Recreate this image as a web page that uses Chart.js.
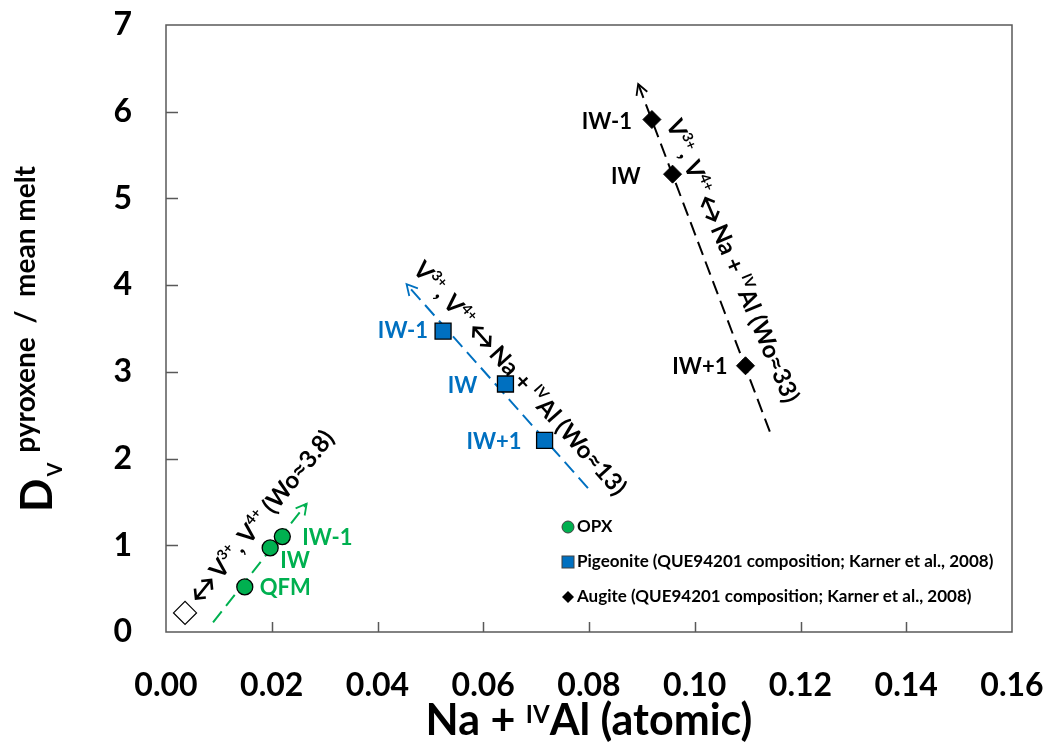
<!DOCTYPE html>
<html>
<head>
<meta charset="utf-8">
<script src="https://cdn.jsdelivr.net/npm/chart.js@4.4.1/dist/chart.umd.min.js"></script>
<style>body{margin:0;background:#fff}</style>
</head>
<body>
<canvas id="myChart" width="1048" height="742"></canvas>
<script>
const xMin = 0, xMax = 0.16, xStep = 0.02;
const yMin = 0, yMax = 7, yStep = 1;

const opxX = [0.0149, 0.0197, 0.0220];
const opxY = [0.52, 0.97, 1.10];
const opxLabels = ["QFM", "IW", "IW-1"];

const pigX = [0.0524, 0.0642, 0.0716];
const pigY = [3.47, 2.86, 2.21];
const pigLabels = ["IW-1", "IW", "IW+1"];

const augX = [0.0919, 0.0958, 0.1096];
const augY = [5.91, 5.28, 3.07];
const augLabels = ["IW-1", "IW", "IW+1"];

const openX = [0.0036];
const openY = [0.22];

// trend lines, second point is the arrow tip
const opxTrendX = [0.0089, 0.0266];
const opxTrendY = [0.11, 1.48];
const pigTrendX = [0.0798, 0.0455];
const pigTrendY = [1.66, 4.01];
const augTrendX = [0.1142, 0.0893];
const augTrendY = [2.31, 6.32];

const legendLabels = [
  "OPX",
  "Pigeonite (QUE94201 composition; Karner et al., 2008)",
  "Augite (QUE94201 composition; Karner et al., 2008)"
];

const GREEN = "#00B050", BLUE = "#0070C0", BLACK = "#000000";
const FAM = "Lato, 'Open Sans', sans-serif";
function font(size) { return "bold " + size + "px " + FAM; }

function toXY(xs, ys) { return xs.map((x, i) => ({ x: x, y: ys[i] })); }

// label offsets in px from the marker: dx, dy, align
const opxLabelPos = [[15, 1, "left"], [10, 13, "left"], [20, 1, "left"]];
const pigLabelPos = [[-15, 0, "right"], [-28, 2, "right"], [-23, 2, "right"]];
const augLabelPos = [[-20, 2, "right"], [-32, 3, "right"], [-18, 1, "right"]];

// rotated notes: anchor in data units, angle in degrees
// seg kinds: 0 text, 1 superscript, 2 double arrow
const notes = [
  { x: 0.0068, y: 0.33, angle: -51, segs: [["", 2], [" V"], ["3+", 1], [", V"], ["4+", 1], [" (Wo\u22483.8)"]] },
  { x: 0.0465, y: 4.17, angle: 48, segs: [["V"], ["3+", 1], [", V"], ["4+", 1], [" "], ["", 2], [" Na + "], ["IV", 1], ["Al (Wo\u224813)"]] },
  { x: 0.0945, y: 5.86, angle: 67, segs: [["V"], ["3+", 1], [", V"], ["4+", 1], [" "], ["", 2], [" Na + "], ["IV", 1], ["Al (Wo\u224833)"]] }
];
const noteSize = 24;

function drawRich(ctx, x, y, angle, segs, size) {
  ctx.save();
  ctx.translate(x, y);
  ctx.rotate(angle * Math.PI / 180);
  ctx.fillStyle = BLACK;
  ctx.strokeStyle = BLACK;
  ctx.textAlign = "left";
  ctx.textBaseline = "alphabetic";
  let cx = 0;
  segs.forEach(s => {
    if (s[1] === 2) {
      const L = 24, h = 7, ay = -size * 0.32;
      ctx.lineWidth = 2.6;
      ctx.beginPath();
      ctx.moveTo(cx, ay); ctx.lineTo(cx + L, ay);
      ctx.moveTo(cx + h, ay - h); ctx.lineTo(cx, ay); ctx.lineTo(cx + h, ay + h);
      ctx.moveTo(cx + L - h, ay - h); ctx.lineTo(cx + L, ay); ctx.lineTo(cx + L - h, ay + h);
      ctx.stroke();
      cx += L;
      return;
    }
    const sz = s[1] ? size * 0.6 : size;
    ctx.font = font(sz);
    ctx.fillText(s[0], cx, s[1] ? -size * 0.42 : 0);
    cx += ctx.measureText(s[0]).width;
  });
  ctx.restore();
}

function arrowHead(ctx, p0, p1, color) {
  const a = Math.atan2(p1.y - p0.y, p1.x - p0.x);
  const L = 12, w = 0.5;
  ctx.save();
  ctx.strokeStyle = color;
  ctx.lineWidth = 1.8;
  ctx.beginPath();
  ctx.moveTo(p1.x - L * Math.cos(a - w), p1.y - L * Math.sin(a - w));
  ctx.lineTo(p1.x, p1.y);
  ctx.lineTo(p1.x - L * Math.cos(a + w), p1.y - L * Math.sin(a + w));
  ctx.stroke();
  ctx.restore();
}

const decor = {
  id: "decor",
  afterDatasetsDraw(chart) {
    const ctx = chart.ctx, a = chart.chartArea;
    const xs = chart.scales.x, ys = chart.scales.y;

    // frame and inward ticks
    ctx.save();
    ctx.strokeStyle = "#595959";
    ctx.lineWidth = 1.5;
    ctx.strokeRect(a.left, a.top, a.right - a.left, a.bottom - a.top);
    ctx.beginPath();
    for (let v = yMin + yStep; v < yMax; v += yStep) {
      const py = Math.round(ys.getPixelForValue(v)) + 0.5;
      ctx.moveTo(a.left, py); ctx.lineTo(a.left + 12, py);
    }
    for (let i = 1; i < Math.round((xMax - xMin) / xStep); i++) {
      const px = Math.round(xs.getPixelForValue(xMin + i * xStep)) + 0.5;
      ctx.moveTo(px, a.bottom); ctx.lineTo(px, a.bottom - 10);
    }
    ctx.stroke();
    ctx.restore();

    // arrow tips on the trend lines
    [[4, GREEN], [5, BLUE], [6, BLACK]].forEach(t => {
      const pts = chart.getDatasetMeta(t[0]).data;
      arrowHead(ctx, pts[0], pts[1], t[1]);
    });

    // point labels
    ctx.save();
    ctx.textBaseline = "middle";
    ctx.font = font(22);
    [[0, opxLabels, opxLabelPos, GREEN], [1, pigLabels, pigLabelPos, BLUE], [2, augLabels, augLabelPos, BLACK]].forEach(g => {
      const pts = chart.getDatasetMeta(g[0]).data;
      ctx.fillStyle = g[3];
      pts.forEach((p, i) => {
        const o = g[2][i];
        ctx.textAlign = o[2];
        ctx.fillText(g[1][i], p.x + o[0], p.y + o[1]);
      });
    });
    ctx.restore();

    // rotated notes
    notes.forEach(n => {
      drawRich(ctx, xs.getPixelForValue(n.x), ys.getPixelForValue(n.y), n.angle, n.segs, noteSize);
    });

    // legend
    ctx.save();
    const lx = a.left + 402, rows = [a.bottom - 105, a.bottom - 70, a.bottom - 35];
    ctx.lineWidth = 1;
    ctx.strokeStyle = "#404040";
    ctx.fillStyle = GREEN;
    ctx.beginPath(); ctx.arc(lx, rows[0], 6, 0, Math.PI * 2); ctx.fill(); ctx.stroke();
    ctx.fillStyle = BLUE;
    ctx.fillRect(lx - 6, rows[1] - 6, 12, 12); ctx.strokeRect(lx - 6, rows[1] - 6, 12, 12);
    ctx.fillStyle = BLACK;
    ctx.beginPath();
    ctx.moveTo(lx - 6, rows[2]); ctx.lineTo(lx, rows[2] - 6); ctx.lineTo(lx + 6, rows[2]); ctx.lineTo(lx, rows[2] + 6);
    ctx.closePath(); ctx.fill();
    ctx.font = font(17);
    ctx.textAlign = "left";
    ctx.textBaseline = "middle";
    legendLabels.forEach((t, i) => ctx.fillText(t, lx + 9, rows[i]));
    ctx.restore();
  },
  afterDraw(chart) {
    const ctx = chart.ctx, a = chart.chartArea;
    ctx.save();
    ctx.fillStyle = BLACK;
    ctx.textAlign = "left";
    ctx.textBaseline = "alphabetic";

    // x title
    const big = 43, small = 24;
    const parts = [["Na + ", big, 0], ["IV", small, -12], ["Al (atomic)", big, 0]];
    let w = 0;
    parts.forEach(p => { ctx.font = font(p[1]); w += ctx.measureText(p[0]).width; });
    let cx = (a.left + a.right) / 2 - w / 2;
    parts.forEach(p => {
      ctx.font = font(p[1]);
      ctx.fillText(p[0], cx, 735 + p[2]);
      cx += ctx.measureText(p[0]).width;
    });

    // y title
    ctx.translate(52, 512);
    ctx.rotate(-Math.PI / 2);
    ctx.font = font(44);
    ctx.fillText("D", 0, 0);
    let px = ctx.measureText("D").width + 2;
    ctx.font = font(20);
    ctx.fillText("V", px, 10);
    px += ctx.measureText("V").width + 10;
    ctx.font = font(28);
    ctx.fillText("pyroxene  /  mean melt", px, -17);
    ctx.restore();
  }
};

const lineBase = { type: "line", showLine: true, pointRadius: 0, pointHoverRadius: 0, borderWidth: 2, borderDash: [14, 7], fill: false };

const data = {
  datasets: [
    { label: "OPX", data: toXY(opxX, opxY), pointStyle: "circle", pointRadius: 8, backgroundColor: GREEN, borderColor: BLACK, borderWidth: 1.3, order: 1 },
    { label: "Pigeonite", data: toXY(pigX, pigY), pointStyle: "rect", pointRadius: 11.3, backgroundColor: BLUE, borderColor: BLACK, borderWidth: 1.3, order: 1 },
    { label: "Augite", data: toXY(augX, augY), pointStyle: "rectRot", pointRadius: 9, backgroundColor: BLACK, borderColor: BLACK, borderWidth: 1, order: 1 },
    { label: "open", data: toXY(openX, openY), pointStyle: "rectRot", pointRadius: 11.5, backgroundColor: "#ffffff", borderColor: BLACK, borderWidth: 1.2, order: 1 },
    Object.assign({ label: "opx trend", data: toXY(opxTrendX, opxTrendY), borderColor: GREEN, order: 2 }, lineBase),
    Object.assign({ label: "pig trend", data: toXY(pigTrendX, pigTrendY), borderColor: BLUE, order: 2 }, lineBase),
    Object.assign({ label: "aug trend", data: toXY(augTrendX, augTrendY), borderColor: BLACK, order: 2 }, lineBase)
  ]
};

const config = {
  type: "scatter",
  data: data,
  options: {
    responsive: false,
    animation: false,
    layout: { padding: { top: 25, right: 36, left: 0, bottom: 0 } },
    scales: {
      x: {
        type: "linear", min: xMin, max: xMax,
        afterFit: s => { s.height = 110; s.paddingLeft = 0; s.paddingRight = 0; },
        grid: { display: false, drawTicks: false, tickLength: 0 },
        border: { display: false },
        ticks: { stepSize: xStep, padding: 34, color: BLACK, font: { family: FAM, size: 32, weight: "bold" }, callback: v => v.toFixed(2) }
      },
      y: {
        type: "linear", min: yMin, max: yMax,
        afterFit: s => { s.width = 166; s.paddingTop = 0; s.paddingBottom = 0; },
        grid: { display: false, drawTicks: false, tickLength: 0 },
        border: { display: false },
        ticks: { stepSize: yStep, padding: 34, color: BLACK, font: { family: FAM, size: 32, weight: "bold" } }
      }
    },
    plugins: { legend: { display: false }, tooltip: { enabled: false } }
  },
  plugins: [decor]
};

const myChart = new Chart(document.getElementById("myChart"), config);
</script>
</body>
</html>
